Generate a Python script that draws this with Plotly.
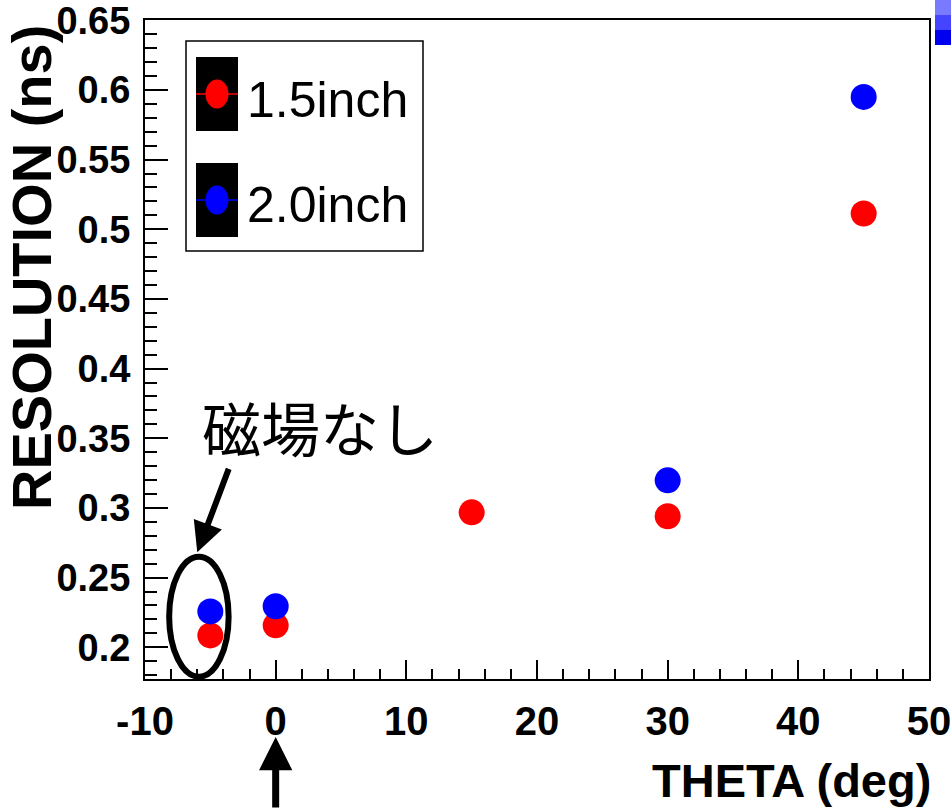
import plotly.graph_objects as go

# ---- data ----
theta_15 = [-5, 0, 15, 30, 45]
res_15 = [0.2085, 0.2157, 0.2968, 0.2940, 0.5113]
theta_20 = [-5, 0, 30, 45]
res_20 = [0.2257, 0.2294, 0.3198, 0.5950]
series_names = ["1.5inch", "2.0inch"]
series_colors = ["#ff0000", "#0000ff"]
x_ticks = [-10, 0, 10, 20, 30, 40, 50]
x_ticktext = ["-10", "0", "10", "20", "30", "40", "50"]
y_ticks = [0.2, 0.25, 0.3, 0.35, 0.4, 0.45, 0.5, 0.55, 0.6, 0.65]
y_ticktext = ["0.2", "0.25", "0.3", "0.35", "0.4", "0.45", "0.5", "0.55", "0.6", "0.65"]
x_title = "THETA (deg)"
y_title = "RESOLUTION (ns)"
note_text = "磁場なし"

W, H = 951, 809
L, R, T, B = 145, 929, 20, 679


def px(x):
    return (x - L) / (R - L)


def py(y):
    return (B - y) / (B - T)


FONT = "Liberation Sans, Arial, sans-serif"

fig = go.Figure()
fig.add_trace(go.Scatter(x=theta_15, y=res_15, mode="markers", name=series_names[0],
                         marker=dict(color=series_colors[0], size=26, line=dict(width=0)),
                         showlegend=False, cliponaxis=False))
fig.add_trace(go.Scatter(x=theta_20, y=res_20, mode="markers", name=series_names[1],
                         marker=dict(color=series_colors[1], size=26, line=dict(width=0)),
                         showlegend=False, cliponaxis=False))

shapes = []
annotations = []

# legend box
shapes.append(dict(type="rect", xref="paper", yref="paper", x0=px(186), x1=px(423),
                   y0=py(251), y1=py(41), line=dict(color="black", width=1.5),
                   fillcolor="white", layer="above"))
leg_rows = [(57, 131, 94, 100), (163, 237, 200, 205)]
for i, (y0, y1, yc, yt) in enumerate(leg_rows):
    shapes.append(dict(type="rect", xref="paper", yref="paper", x0=px(196), x1=px(238),
                       y0=py(y1), y1=py(y0), line=dict(width=0), fillcolor="black", layer="above"))
    shapes.append(dict(type="line", xref="paper", yref="paper", x0=px(196), x1=px(238),
                       y0=py(yc), y1=py(yc), line=dict(color=series_colors[i], width=1.5), layer="above"))
    shapes.append(dict(type="circle", xref="paper", yref="paper", x0=px(205.5), x1=px(228.5),
                       y0=py(yc + 14.5), y1=py(yc - 14.5), line=dict(width=0),
                       fillcolor=series_colors[i], layer="above"))
    annotations.append(dict(text=series_names[i], xref="paper", yref="paper", x=px(245), y=py(yt),
                            xanchor="left", yanchor="middle", showarrow=False,
                            font=dict(family=FONT, size=50, color="black")))

# ellipse around the no-field points
shapes.append(dict(type="circle", xref="x", yref="y", x0=-8.15, x1=-3.6, y0=0.1789, y1=0.2650,
                   line=dict(color="black", width=6), layer="above"))

# blue fragment at top right
for (ya, yb, c) in [(0, 15, "#7a7aff"), (15, 30, "#4545ff"), (30, 45, "#0000f0")]:
    shapes.append(dict(type="rect", xref="paper", yref="paper", x0=px(935), x1=px(960),
                       y0=py(yb), y1=py(ya), line=dict(width=0), fillcolor=c, layer="above"))

# annotation text and arrows
annotations.append(dict(text=note_text, xref="paper", yref="paper", x=px(320), y=py(426),
                        xanchor="center", yanchor="middle", showarrow=False,
                        font=dict(family="Noto Sans CJK JP", size=59, color="black")))
annotations.append(dict(text="", xref="x", yref="y", x=-6.0, y=0.2681, ax=32, ay=-85,
                        showarrow=True, arrowhead=2, arrowwidth=6, arrowsize=1, arrowcolor="black"))
annotations.append(dict(text="", xref="x", yref="paper", x=0, y=py(737), ax=0, ay=80,
                        showarrow=True, arrowhead=2, arrowwidth=7, arrowsize=0.95, arrowcolor="black"))

# axis titles
annotations.append(dict(text=x_title, xref="paper", yref="paper", x=px(933), y=py(780),
                        xanchor="right", yanchor="middle", showarrow=False,
                        font=dict(family=FONT, size=47, color="black", weight="bold")))
annotations.append(dict(text=y_title, xref="paper", yref="paper", x=px(31), y=py(268),
                        xanchor="center", yanchor="middle", showarrow=False, textangle=-90,
                        font=dict(family=FONT, size=56, color="black", weight="bold")))

fig.update_layout(
    width=W, height=H,
    margin=dict(l=L, r=W - R, t=T, b=H - B, pad=0, autoexpand=False),
    paper_bgcolor="white", plot_bgcolor="white",
    shapes=shapes, annotations=annotations,
    showlegend=False,
)
fig.update_xaxes(
    range=[-10, 50], tickvals=x_ticks, ticktext=x_ticktext, automargin=False,
    ticklabeloverflow="allow",
    ticks="inside", ticklen=19, tickwidth=1.5, tickcolor="black",
    minor=dict(dtick=2, tick0=0, ticks="inside", ticklen=10, tickwidth=1.5, tickcolor="black"),
    showline=True, linecolor="black", linewidth=2, mirror=True,
    showgrid=False, zeroline=False,
    tickfont=dict(family=FONT, size=40, color="black", weight="bold"),
    ticklabelstandoff=6,
)
fig.update_yaxes(
    range=[0.1772, 0.6502], tickvals=y_ticks, ticktext=y_ticktext, automargin=False,
    ticklabeloverflow="allow",
    ticks="inside", ticklen=23, tickwidth=1.5, tickcolor="black",
    minor=dict(dtick=0.01, tick0=0, ticks="inside", ticklen=12, tickwidth=1.5, tickcolor="black"),
    showline=True, linecolor="black", linewidth=2, mirror=True,
    showgrid=False, zeroline=False,
    tickfont=dict(family=FONT, size=38, color="black", weight="bold"),
    ticklabelstandoff=5,
)

fig.write_html("out.html")
